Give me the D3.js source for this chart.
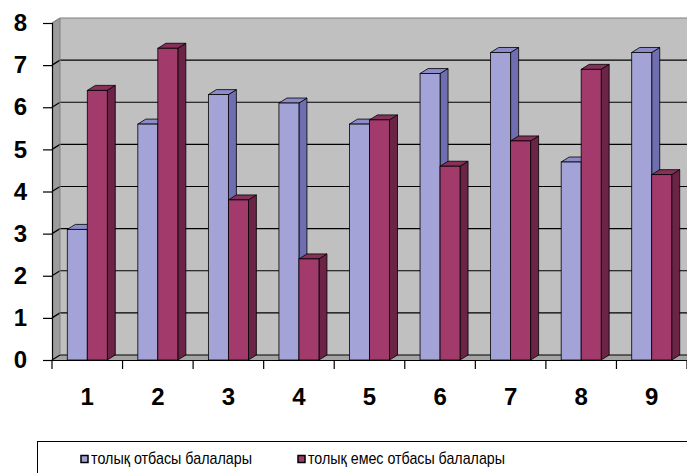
<!DOCTYPE html>
<html>
<head>
<meta charset="utf-8">
<script src="https://cdn.jsdelivr.net/npm/d3@7"></script>
<style>
  body { margin: 0; background: #fff; }
  svg { display: block; font-family: "Liberation Sans", Arial, sans-serif; }
</style>
</head>
<body>
<svg id="chart"></svg>
<script>
// --- Data ---
const categories = ["1", "2", "3", "4", "5", "6", "7", "8", "9"];
const fullFamily = [3.1, 5.6, 6.3, 6.1, 5.6, 6.8, 7.3, 4.7, 7.3];
const singleFamily = [6.4, 7.4, 3.8, 2.4, 5.7, 4.6, 5.2, 6.9, 4.4];
const seriesNames = ["толық отбасы балалары", "толық емес отбасы балалары"];
const yTicks = [0, 1, 2, 3, 4, 5, 6, 7, 8];

const width = 687, height = 473;
const svg = d3.select("#chart").attr("width", width).attr("height", height);

// layout
const plotLeft = 52, plotRight = 687, plotTop = 23, plotBottom = 360;
const dx = 8, dy = -5;       // depth offset of the 3D walls / bars
const barW = 20;

const x = d3.scaleBand().domain(categories).range([plotLeft, plotRight]);
const y = d3.scaleLinear().domain([0, 8]).range([plotBottom, plotTop]);

const series = [
  { name: seriesNames[0], values: fullFamily, front: "#A3A3D7", side: "#6E6EB0", topc: "#8C8CCB" },
  { name: seriesNames[1], values: singleFamily, front: "#A23B6C", side: "#6B2346", topc: "#86305A" }
];

// --- walls ---
const walls = svg.append("g");
walls.append("rect")
  .attr("x", plotLeft + dx).attr("y", y(8) + dy)
  .attr("width", plotRight - plotLeft - dx).attr("height", y(0) - y(8))
  .attr("fill", "#C0C0C0");
walls.append("polygon")
  .attr("points", [[plotLeft, y(0)], [plotLeft + dx, y(0) + dy], [plotLeft + dx, y(8) + dy], [plotLeft, y(8)]].join(" "))
  .attr("fill", "#9C9C9C");
walls.append("polygon")
  .attr("points", [[plotLeft, y(0)], [plotLeft + dx, y(0) + dy], [plotRight, y(0) + dy], [plotRight, y(0)]].join(" "))
  .attr("fill", "#A4A4A4");

// gridlines
walls.selectAll("polyline.grid")
  .data(yTicks)
  .enter().append("polyline")
  .attr("class", "grid")
  .attr("points", d => [[plotLeft, y(d)], [plotLeft + dx, y(d) + dy], [plotRight, y(d) + dy]].join(" "))
  .attr("fill", "none")
  .attr("stroke", d => d === 8 ? "#808080" : "#000")
  .attr("stroke-width", 1.2);

// wall edges
walls.append("line")
  .attr("x1", plotLeft + dx).attr("x2", plotLeft + dx)
  .attr("y1", y(8) + dy).attr("y2", y(0) + dy)
  .attr("stroke", "#808080").attr("stroke-width", 1);

// --- bars ---
series.forEach((s, i) => {
  const g = svg.append("g");
  const bars = g.selectAll("g.bar")
    .data(categories.map((c, k) => ({ c, v: s.values[k] })))
    .enter().append("g").attr("class", "bar");

  const x0 = d => x(d.c) + x.bandwidth() / 2 - barW + i * barW;

  bars.append("polygon") // side
    .attr("points", d => {
      const a = x0(d) + barW, t = y(d.v), b = y(0);
      return [[a, t], [a + dx, t + dy], [a + dx, b + dy], [a, b]].join(" ");
    })
    .attr("fill", s.side).attr("stroke", "#000").attr("stroke-width", 0.8).attr("stroke-linejoin", "round");

  bars.append("polygon") // top
    .attr("points", d => {
      const a = x0(d), t = y(d.v);
      return [[a, t], [a + dx, t + dy], [a + barW + dx, t + dy], [a + barW, t]].join(" ");
    })
    .attr("fill", s.topc).attr("stroke", "#000").attr("stroke-width", 0.8).attr("stroke-linejoin", "round");

  bars.append("rect") // front
    .attr("x", d => x0(d)).attr("y", d => y(d.v))
    .attr("width", barW).attr("height", d => y(0) - y(d.v))
    .attr("fill", s.front).attr("stroke", "#000").attr("stroke-width", 0.8);
});

// --- axes ---
const yAxis = d3.axisLeft(y).tickValues(yTicks).tickSize(9).tickPadding(16).tickFormat(d3.format("d"));
const yg = svg.append("g").attr("transform", `translate(${plotLeft},0)`).call(yAxis);
yg.select(".domain").attr("stroke", "#000").attr("stroke-width", 1.2);
yg.selectAll(".tick line").attr("stroke", "#000").attr("stroke-width", 1.2);
yg.selectAll("text").attr("font-size", 24).attr("font-weight", "bold").attr("fill", "#000")
  .attr("font-family", "Liberation Sans, Arial, sans-serif");

const xg = svg.append("g").attr("transform", `translate(0,${plotBottom})`)
  .call(d3.axisBottom(x).tickSize(0).tickPadding(28));
xg.select(".domain").attr("stroke", "#000").attr("stroke-width", 1.2);
xg.selectAll("text").attr("font-size", 24).attr("font-weight", "bold").attr("fill", "#000")
  .attr("font-family", "Liberation Sans, Arial, sans-serif");
// tick marks at band boundaries
xg.selectAll("line.btick")
  .data(categories.concat(["end"]))
  .enter().append("line").attr("class", "btick")
  .attr("x1", (d, k) => plotLeft + k * x.step()).attr("x2", (d, k) => plotLeft + k * x.step())
  .attr("y1", 0).attr("y2", 9)
  .attr("stroke", "#000").attr("stroke-width", 1.2);

// --- legend ---
const lg = svg.append("g");
lg.append("rect")
  .attr("x", 37.5).attr("y", 441.5).attr("width", 660).attr("height", 40)
  .attr("fill", "#fff").attr("stroke", "#000").attr("stroke-width", 1);
const legendX = [81, 298];
const legendLen = [161, 197];
series.forEach((s, i) => {
  lg.append("rect")
    .attr("x", legendX[i]).attr("y", 455.5).attr("width", 7).attr("height", 7)
    .attr("fill", s.front).attr("stroke", "#000").attr("stroke-width", 1.5);
  lg.append("text")
    .attr("x", legendX[i] + 10).attr("y", 464)
    .attr("font-size", 17)
    .attr("textLength", legendLen[i])
    .attr("lengthAdjust", "spacingAndGlyphs")
    .attr("fill", "#000")
    .text(s.name);
});
</script>
</body>
</html>
